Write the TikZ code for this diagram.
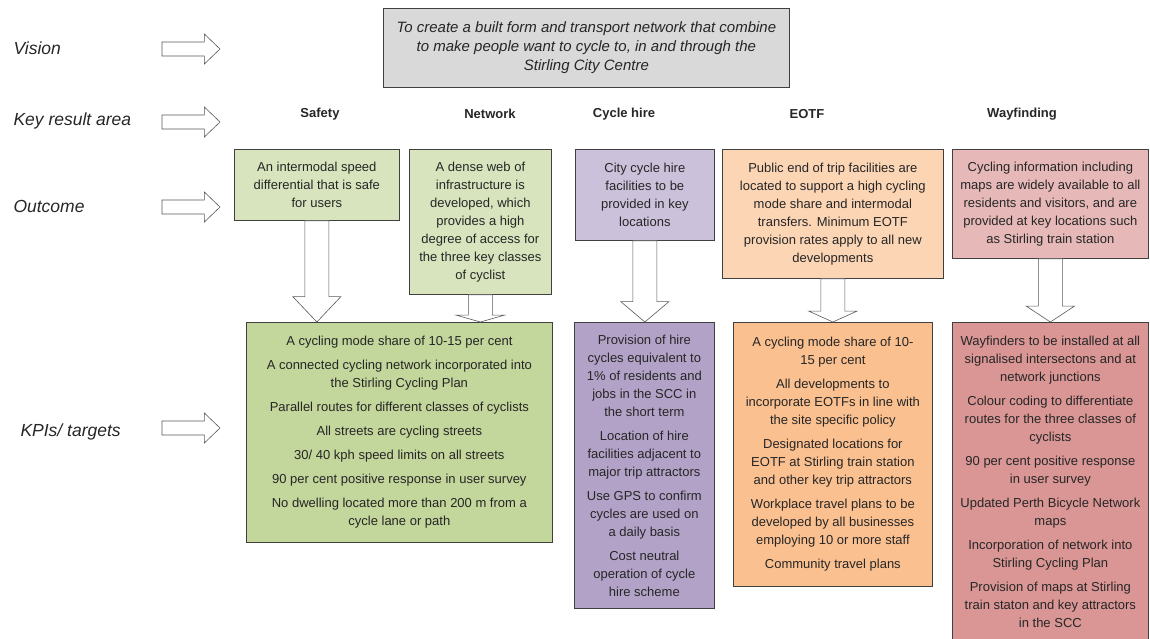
\documentclass[tikz,border=0pt]{standalone}
\usepackage{fontspec}
\setmainfont{Liberation Sans}
\usetikzlibrary{calc}
\definecolor{vision_gray}{RGB}{217, 217, 217}
\definecolor{safety_light}{RGB}{215, 228, 189}
\definecolor{safety_dark}{RGB}{195, 214, 155}
\definecolor{hire_light}{RGB}{204, 193, 218}
\definecolor{hire_dark}{RGB}{179, 162, 199}
\definecolor{eotf_light}{RGB}{252, 213, 181}
\definecolor{eotf_dark}{RGB}{250, 192, 144}
\definecolor{way_light}{RGB}{230, 185, 184}
\definecolor{way_dark}{RGB}{217, 150, 148}

% hollow block arrow from an outcome box down to a KPI box
\newcommand{\hollowdown}[2]{%
    \draw [hollow] let \p1=(#1.south), \p2=(#2.north), \n1={0.25*(\y1-\y2)} in
        (\x1-12pt,\y1) -- (\x1-12pt,{\y2+\n1*1pt}) -- (\x1-24pt,{\y2+\n1*1pt})
        -- (\x1,\y2) -- (\x1+24pt,{\y2+\n1*1pt}) -- (\x1+12pt,{\y2+\n1*1pt})
        -- (\x1+12pt,\y1) -- cycle;}
% hollow block arrow pointing right, from tail to tip
\newcommand{\hollowright}[2]{%
    \draw [hollow] let \p1=(#1), \p2=(#2), \n1={0.27*(\x2-\x1)} in
        (\x1,\y1+7pt) -- ({\x2-\n1*1pt},\y1+7pt) -- ({\x2-\n1*1pt},\y1+15pt)
        -- (\x2,\y1) -- ({\x2-\n1*1pt},\y1-15pt) -- ({\x2-\n1*1pt},\y1-7pt)
        -- (\x1,\y1-7pt) -- cycle;}

\begin{document}
\begin{tikzpicture}[
    x=1pt, y=-1pt,
    % boxes of the framework
    box/.style={
        draw=black!75,
        line width=0.7pt,
        rectangle,
        anchor=north west,
        align=center,
        inner sep=0pt,
        text=black!85,
        font=\fontsize{13}{18}\selectfont
    },
    rowlabel/.style={anchor=west, text=black!85, font=\itshape\fontsize{17.5}{21}\selectfont},
    area/.style={text=black!85, font=\bfseries\fontsize{13}{16}\selectfont},
    hollow/.style={draw=black!65, fill=white, line width=0.6pt, line join=miter}
]
    \useasboundingbox (0,0) rectangle (1150,638);

    % ==========================================
    % 1. ROW LABELS
    % ==========================================

    \node (vision_lbl) [rowlabel] at (10,48) {Vision};
    \node (area_lbl) [rowlabel] at (10,121) {Key result area};
    \node (outcome_lbl) [rowlabel] at (10,206) {Outcome};
    \node (kpi_lbl) [rowlabel] at (17,432) {KPIs/ targets};

    \coordinate (vision_tail) at (162,49);
    \coordinate (vision_tip) at (220,49);
    \coordinate (area_tail) at (162,122);
    \coordinate (area_tip) at (220,122);
    \coordinate (outcome_tail) at (162,207);
    \coordinate (outcome_tip) at (220,207);
    \coordinate (kpi_tail) at (162,428);
    \coordinate (kpi_tip) at (220,428);

    \hollowright{vision_tail}{vision_tip}
    \hollowright{area_tail}{area_tip}
    \hollowright{outcome_tail}{outcome_tip}
    \hollowright{kpi_tail}{kpi_tip}

    % ==========================================
    % 2. VISION AND KEY RESULT AREAS
    % ==========================================

    \node (vision_box) [box, fill=vision_gray, minimum width=406pt, minimum height=79pt,
        font=\itshape\fontsize{15}{19}\selectfont] at (383,8) {
        To create a built form and transport network that combine\\
        to make people want to cycle to, in and through the\\
        Stirling City Centre
    };

    \node (safety_area) [area] at (320,114) {Safety};
    \node (network_area) [area] at (490,114) {Network};
    \node (hire_area) [area] at (624,114) {Cycle hire};
    \node (eotf_area) [area] at (807,114) {EOTF};
    \node (way_area) [area] at (1022,114) {Wayfinding};

    % ==========================================
    % 3. OUTCOMES
    % ==========================================

    \node (safety_out) [box, fill=safety_light, minimum width=165pt, minimum height=71pt] at (234,149) {
        An intermodal speed\\
        differential that is safe\\
        for users
    };
    \node (network_out) [box, fill=safety_light, minimum width=142pt, minimum height=145pt] at (409,149) {
        A dense web of\\
        infrastructure is\\
        developed, which\\
        provides a high\\
        degree of access for\\
        the three key classes\\
        of cyclist
    };
    \node (hire_out) [box, fill=hire_light, minimum width=139pt, minimum height=91pt] at (575,149) {
        City cycle hire\\
        facilities to be\\
        provided in key\\
        locations
    };
    \node (eotf_out) [box, fill=eotf_light, minimum width=221pt, minimum height=129pt] at (722,149) {
        Public end of trip facilities are\\
        located to support a high cycling\\
        mode share and intermodal\\
        transfers. Minimum EOTF\\
        provision rates apply to all new\\
        developments
    };
    \node (way_out) [box, fill=way_light, minimum width=196pt, minimum height=109pt] at (952,149) {
        Cycling information including\\
        maps are widely available to all\\
        residents and visitors, and are\\
        provided at key locations such\\
        as Stirling train station
    };

    % ==========================================
    % 4. KPIs / TARGETS
    % ==========================================

    \node (safety_kpi) [box, fill=safety_dark, minimum width=306pt, minimum height=220pt] at (246,322) {
        A cycling mode share of 10-15 per cent\\[6pt]
        A connected cycling network incorporated into\\
        the Stirling Cycling Plan\\[6pt]
        Parallel routes for different classes of cyclists\\[6pt]
        All streets are cycling streets\\[6pt]
        30/ 40 kph speed limits on all streets\\[6pt]
        90 per cent positive response in user survey\\[6pt]
        No dwelling located more than 200 m from a\\
        cycle lane or path
    };
    \node (hire_kpi) [box, fill=hire_dark, minimum width=140pt, minimum height=286pt] at (574,322) {
        Provision of hire\\
        cycles equivalent to\\
        1\% of residents and\\
        jobs in the SCC in\\
        the short term\\[6pt]
        Location of hire\\
        facilities adjacent to\\
        major trip attractors\\[6pt]
        Use GPS to confirm\\
        cycles are used on\\
        a daily basis\\[6pt]
        Cost neutral\\
        operation of cycle\\
        hire scheme
    };
    \node (eotf_kpi) [box, fill=eotf_dark, minimum width=199pt, minimum height=264pt] at (733,322) {
        A cycling mode share of 10-\\
        15 per cent\\[6pt]
        All developments to\\
        incorporate EOTFs in line with\\
        the site specific policy\\[6pt]
        Designated locations for\\
        EOTF at Stirling train station\\
        and other key trip attractors\\[6pt]
        Workplace travel plans to be\\
        developed by all businesses\\
        employing 10 or more staff\\[6pt]
        Community travel plans
    };
    \node (way_kpi) [box, fill=way_dark, minimum width=196pt, minimum height=318pt] at (952,322) {
        Wayfinders to be installed at all\\
        signalised intersectons and at\\
        network junctions\\[6pt]
        Colour coding to differentiate\\
        routes for the three classes of\\
        cyclists\\[6pt]
        90 per cent positive response\\
        in user survey\\[6pt]
        Updated Perth Bicycle Network\\
        maps\\[6pt]
        Incorporation of network into\\
        Stirling Cycling Plan\\[6pt]
        Provision of maps at Stirling\\
        train staton and key attractors\\
        in the SCC
    };

    % Outcome to KPI arrows
    \hollowdown{safety_out}{safety_kpi}
    \hollowdown{network_out}{safety_kpi}
    \hollowdown{hire_out}{hire_kpi}
    \hollowdown{eotf_out}{eotf_kpi}
    \hollowdown{way_out}{way_kpi}

\end{tikzpicture}
\end{document}
